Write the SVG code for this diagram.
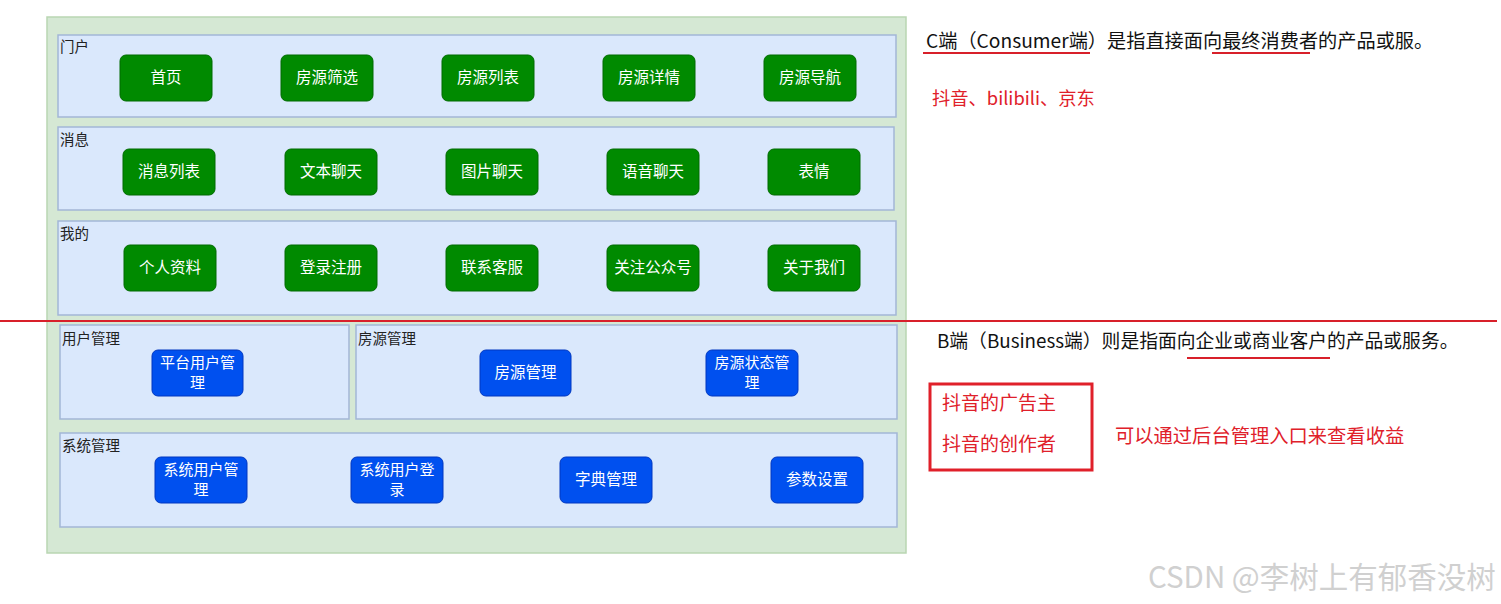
<svg xmlns="http://www.w3.org/2000/svg" width="1501" height="604" viewBox="0 0 1501 604">
<style>
text{font-family:"Noto Sans CJK SC","Liberation Sans",sans-serif}
.outer{fill:#d5e8d4;stroke:#b9d6b2;stroke-width:1.5}
.lane{fill:#dae8fc;stroke:#a3b6d6;stroke-width:1.5}
.lbl{font-size:14.5px;fill:#222}
.gbtn{fill:#008a00;stroke:#006b00;stroke-width:1}
.bbtn{fill:#0050ef;stroke:#0037c0;stroke-width:1}
.bt{font-size:15.5px;fill:#fff;text-anchor:middle}
.bt2{font-size:15px;fill:#fff;text-anchor:middle}
.note{font-size:18.8px;fill:#111}
.red{fill:#e0202a}
.ul{stroke:#d8202a;stroke-width:2}
</style>
<rect width="1501" height="604" fill="#fff"/>
<rect id="container" class="outer" x="47" y="17" width="859" height="536"/>

<g id="lane-menhu"><rect class="lane" x="58" y="35" width="838" height="82"/><text class="lbl" x="60" y="52">门户</text></g>
<g id="lane-xiaoxi"><rect class="lane" x="58" y="127" width="836" height="83"/><text class="lbl" x="60" y="145">消息</text></g>
<g id="lane-wode"><rect class="lane" x="58" y="221" width="838" height="94"/><text class="lbl" x="60" y="239">我的</text></g>
<g id="lane-yonghu"><rect class="lane" x="60" y="325" width="289" height="94"/><text class="lbl" x="62" y="344">用户管理</text></g>
<g id="lane-fangyuan"><rect class="lane" x="356" y="325" width="541" height="94"/><text class="lbl" x="358" y="344">房源管理</text></g>
<g id="lane-xitong"><rect class="lane" x="60" y="433" width="837" height="94"/><text class="lbl" x="62" y="451">系统管理</text></g>

<g id="n-shouye"><rect class="gbtn" x="120" y="55" width="92" height="46" rx="6"/><text class="bt" x="166" y="83">首页</text></g>
<g id="n-shaixuan"><rect class="gbtn" x="281" y="55" width="92" height="46" rx="6"/><text class="bt" x="327" y="83">房源筛选</text></g>
<g id="n-liebiao"><rect class="gbtn" x="442" y="55" width="92" height="46" rx="6"/><text class="bt" x="488" y="83">房源列表</text></g>
<g id="n-xiangqing"><rect class="gbtn" x="603" y="55" width="92" height="46" rx="6"/><text class="bt" x="649" y="83">房源详情</text></g>
<g id="n-daohang"><rect class="gbtn" x="764" y="55" width="92" height="46" rx="6"/><text class="bt" x="810" y="83">房源导航</text></g>

<g id="n-xxlb"><rect class="gbtn" x="123" y="149" width="92" height="46" rx="6"/><text class="bt" x="169" y="177">消息列表</text></g>
<g id="n-wblt"><rect class="gbtn" x="285" y="149" width="92" height="46" rx="6"/><text class="bt" x="331" y="177">文本聊天</text></g>
<g id="n-tplt"><rect class="gbtn" x="446" y="149" width="92" height="46" rx="6"/><text class="bt" x="492" y="177">图片聊天</text></g>
<g id="n-yylt"><rect class="gbtn" x="607" y="149" width="92" height="46" rx="6"/><text class="bt" x="653" y="177">语音聊天</text></g>
<g id="n-bq"><rect class="gbtn" x="768" y="149" width="92" height="46" rx="6"/><text class="bt" x="814" y="177">表情</text></g>

<g id="n-grzl"><rect class="gbtn" x="124" y="245" width="92" height="46" rx="6"/><text class="bt" x="170" y="273">个人资料</text></g>
<g id="n-dlzc"><rect class="gbtn" x="285" y="245" width="92" height="46" rx="6"/><text class="bt" x="331" y="273">登录注册</text></g>
<g id="n-lxkf"><rect class="gbtn" x="446" y="245" width="92" height="46" rx="6"/><text class="bt" x="492" y="273">联系客服</text></g>
<g id="n-gzgzh"><rect class="gbtn" x="607" y="245" width="92" height="46" rx="6"/><text class="bt" x="653" y="273">关注公众号</text></g>
<g id="n-gywm"><rect class="gbtn" x="768" y="245" width="92" height="46" rx="6"/><text class="bt" x="814" y="273">关于我们</text></g>

<g id="n-ptyhgl"><rect class="bbtn" x="152" y="350" width="91" height="46" rx="6"/><text class="bt2" x="197.5" y="368">平台用户管</text><text class="bt2" x="197.5" y="388">理</text></g>
<g id="n-fygl"><rect class="bbtn" x="480" y="350" width="91" height="46" rx="6"/><text class="bt" x="525.5" y="378">房源管理</text></g>
<g id="n-fyztgl"><rect class="bbtn" x="706" y="350" width="92" height="46" rx="6"/><text class="bt2" x="752" y="368">房源状态管</text><text class="bt2" x="752" y="388">理</text></g>
<g id="n-xtyhgl"><rect class="bbtn" x="155" y="457" width="92" height="46" rx="6"/><text class="bt2" x="201" y="475">系统用户管</text><text class="bt2" x="201" y="495">理</text></g>
<g id="n-xtyhdl"><rect class="bbtn" x="351" y="457" width="92" height="46" rx="6"/><text class="bt2" x="397" y="475">系统用户登</text><text class="bt2" x="397" y="495">录</text></g>
<g id="n-zdgl"><rect class="bbtn" x="560" y="457" width="92" height="46" rx="6"/><text class="bt" x="606" y="485">字典管理</text></g>
<g id="n-cssz"><rect class="bbtn" x="771" y="457" width="92" height="46" rx="6"/><text class="bt" x="817" y="485">参数设置</text></g>

<g id="connectors">
<line x1="0" y1="321" x2="1497" y2="321" stroke="#d8202a" stroke-width="2"/>
<line class="ul" x1="923" y1="53" x2="1090" y2="53"/>
<line class="ul" x1="1212" y1="53" x2="1310" y2="53"/>
<line class="ul" x1="1187" y1="358" x2="1330" y2="358"/>
<rect x="930" y="384" width="162" height="86" fill="none" stroke="#e0202a" stroke-width="3"/>
</g>

<g id="notes">
<text class="note" x="926" y="48" style="font-size:19.2px">C端（Consumer端）是指直接面向最终消费者的产品或服。</text>
<text class="note red" x="932" y="105" style="font-size:18.3px">抖音、bilibili、京东</text>
<text class="note" x="937" y="348">B端（Business端）则是指面向企业或商业客户的产品或服务。</text>
<text class="note red" x="942" y="410" style="font-size:19px">抖音的广告主</text>
<text class="note red" x="942" y="451" style="font-size:19px">抖音的创作者</text>
<text class="note red" x="1115" y="443" style="font-size:19.3px">可以通过后台管理入口来查看收益</text>
<text x="1148" y="588" style="font-size:29.5px;fill:#d0d0d0">CSDN @李树上有郁香没树</text>
</g>
</svg>
